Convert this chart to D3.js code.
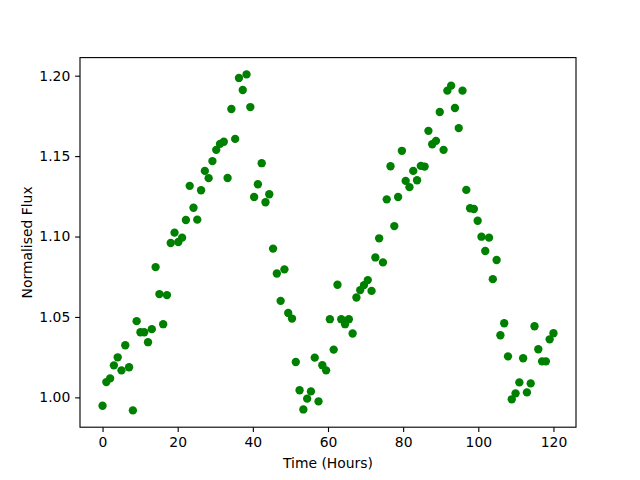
<!DOCTYPE html>
<html>
<head>
<meta charset="utf-8">
<script src="https://cdn.jsdelivr.net/npm/d3@7"></script>
<style>
  body { margin: 0; background: #fff; }
  svg { display: block; }
  text { font-family: "DejaVu Sans", sans-serif; fill: #000; }
</style>
</head>
<body>
<svg id="chart" width="640" height="480"></svg>
<script>
// Normalised flux readings, one per sample (120 samples spread over 0..120 hours)
const fluxValues = [
  0.9948, 1.0095, 1.0118, 1.0199, 1.0249, 1.0168, 1.0324, 1.0187, 0.9919, 1.0474,
  1.0405, 1.0405, 1.0343, 1.0424, 1.0810, 1.0642, 1.0455, 1.0636, 1.0960, 1.1024,
  1.0966, 1.0993, 1.1103, 1.1315, 1.1179, 1.1105, 1.1288, 1.1408, 1.1363, 1.1469,
  1.1539, 1.1576, 1.1589, 1.1364, 1.1793, 1.1607, 1.1986, 1.1911, 1.2008, 1.1805,
  1.1246, 1.1325, 1.1456, 1.1213, 1.1263, 1.0925, 1.0770, 1.0600, 1.0796, 1.0525,
  1.0490, 1.0220, 1.0044, 0.9925, 0.9992, 1.0037, 1.0247, 0.9975, 1.0200, 1.0168,
  1.0486, 1.0297, 1.0700, 1.0486, 1.0455, 1.0486, 1.0397, 1.0621, 1.0667, 1.0698,
  1.0729, 1.0662, 1.0870, 1.0989, 1.0839, 1.1231, 1.1437, 1.1065, 1.1246, 1.1533,
  1.1346, 1.1307, 1.1408, 1.1350, 1.1439, 1.1435, 1.1657, 1.1574, 1.1595, 1.1774,
  1.1539, 1.1907, 1.1938, 1.1799, 1.1674, 1.1907, 1.1290, 1.1176, 1.1171, 1.1098,
  1.0999, 1.0910, 1.0993, 1.0735, 1.0854, 1.0386, 1.0461, 1.0255, 0.9988, 1.0025,
  1.0093, 1.0243, 1.0031, 1.0087, 1.0442, 1.0299, 1.0224, 1.0224, 1.0361, 1.0399
];
const timeStart = 0;
const timeEnd = 120;
const timeHours = fluxValues.map((_, i) => timeStart + i * (timeEnd - timeStart) / (fluxValues.length - 1));

const xTickValues = [0, 20, 40, 60, 80, 100, 120];
const yTickValues = [1.00, 1.05, 1.10, 1.15, 1.20];
const xLabel = "Time (Hours)";
const yLabel = "Normalised Flux";

(function () {
  // Layout (matplotlib default figure geometry)
  const W = 640, H = 480;
  const pLeft = 80, pRight = 576, pTop = 57.6, pBottom = 427.2;

  function padded(ext) {
    const m = (ext[1] - ext[0]) * 0.05;
    return [ext[0] - m, ext[1] + m];
  }

  const x = d3.scaleLinear().domain(padded(d3.extent(timeHours))).range([pLeft, pRight]);
  const y = d3.scaleLinear().domain(padded(d3.extent(fluxValues))).range([pBottom, pTop]);

  const svg = d3.select("#chart");
  svg.append("rect").attr("width", W).attr("height", H).attr("fill", "#fff");

  // points
  svg.append("g")
    .selectAll("circle")
    .data(fluxValues.map((v, i) => [timeHours[i], v]))
    .join("circle")
    .attr("cx", d => x(d[0]))
    .attr("cy", d => y(d[1]))
    .attr("r", 4.17)
    .attr("fill", "#008000");

  const tickLen = 4.86, tickPad = 4.86;

  const xAxis = d3.axisBottom(x).tickValues(xTickValues).tickSize(tickLen).tickPadding(tickPad).tickFormat(d3.format("d"));
  const gx = svg.append("g").attr("transform", `translate(0,${pBottom})`).call(xAxis);

  const yAxis = d3.axisLeft(y).tickValues(yTickValues).tickSize(tickLen).tickPadding(tickPad).tickFormat(d3.format(".2f"));
  const gy = svg.append("g").attr("transform", `translate(${pLeft},0)`).call(yAxis);

  [gx, gy].forEach(g => {
    g.select(".domain").remove();
    g.selectAll(".tick line").attr("stroke", "#000").attr("stroke-width", 1.11);
    g.selectAll(".tick text").attr("font-size", "13.9px").attr("font-family", "DejaVu Sans, sans-serif").attr("fill", "#000");
  });

  // frame (spines)
  svg.append("rect")
    .attr("x", pLeft).attr("y", pTop)
    .attr("width", pRight - pLeft).attr("height", pBottom - pTop)
    .attr("fill", "none").attr("stroke", "#000").attr("stroke-width", 1.11);

  svg.append("text")
    .attr("x", (pLeft + pRight) / 2).attr("y", 468)
    .attr("text-anchor", "middle").attr("font-size", "13.9px")
    .text(xLabel);

  svg.append("text")
    .attr("transform", `translate(32,${(pTop + pBottom) / 2}) rotate(-90)`)
    .attr("text-anchor", "middle").attr("font-size", "13.9px")
    .text(yLabel);
})();
</script>
</body>
</html>
